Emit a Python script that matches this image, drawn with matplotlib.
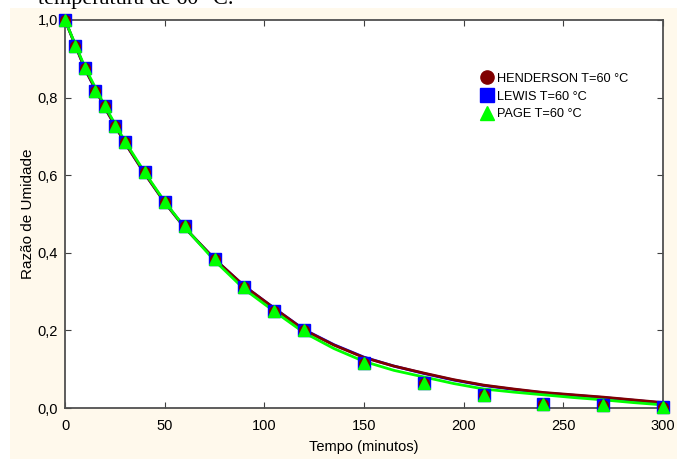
import matplotlib
matplotlib.use("Agg")
import matplotlib.pyplot as plt
from matplotlib.patches import Rectangle
from matplotlib.ticker import FuncFormatter

plt.rcParams['font.family'] = ['Liberation Sans', 'DejaVu Sans']

# pontos experimentais (razao de umidade) - iguais para os tres modelos
tempo_exp = [0, 5, 10, 15, 20, 25, 30, 40, 50, 60, 75, 90, 105, 120,
             150, 180, 210, 240, 270, 300]
ru_exp = [1.0, 0.933, 0.876, 0.817, 0.778, 0.726, 0.685, 0.607, 0.530, 0.470,
          0.385, 0.313, 0.250, 0.200, 0.116, 0.065, 0.034, 0.010, 0.008, 0.003]

# curvas ajustadas
tempo_mod = [0, 10, 20, 30, 40, 50, 60, 75, 90, 105, 120, 135, 150, 165,
             180, 195, 210, 225, 240, 255, 270, 285, 300]
ru_henderson = [1.0, 0.874, 0.774, 0.684, 0.604, 0.530, 0.465, 0.384, 0.314,
                0.257, 0.201, 0.162, 0.130, 0.108, 0.090, 0.073, 0.059, 0.049,
                0.040, 0.034, 0.028, 0.021, 0.014]
ru_lewis = [1.0, 0.874, 0.774, 0.684, 0.604, 0.530, 0.465, 0.384, 0.314,
            0.257, 0.202, 0.163, 0.131, 0.108, 0.089, 0.072, 0.058, 0.048,
            0.039, 0.033, 0.027, 0.020, 0.013]
ru_page = [1.0, 0.878, 0.778, 0.688, 0.607, 0.532, 0.466, 0.380, 0.306,
           0.249, 0.194, 0.153, 0.120, 0.097, 0.080, 0.063, 0.049, 0.041,
           0.034, 0.027, 0.021, 0.014, 0.008]

fig = plt.figure(figsize=(6.77, 4.59), dpi=100)
fig.patch.set_facecolor('white')
fundo = Rectangle((10 / 677, 0), 1, 1 - 8 / 459, transform=fig.transFigure,
                  facecolor='#FFF9EC', edgecolor='none', zorder=-10)
fig.add_artist(fundo)
fig.text(38 / 677, 1 - 4 / 459, 'temperatura de 60 °C.', fontsize=16,
         family=['Liberation Serif', 'DejaVu Serif'], va='baseline', ha='left')

ax = fig.add_axes([65 / 677, 51 / 459, 598 / 677, 388 / 459])
ax.set_zorder(1)
ax.set_facecolor('white')

ax.plot(tempo_mod, ru_lewis, color='#0000FF', lw=2, zorder=2)
ax.plot(tempo_mod, ru_henderson, color='#800000', lw=2, zorder=3)
ax.plot(tempo_mod, ru_page, color='#00FF00', lw=2, zorder=4)

ax.plot(tempo_exp, ru_exp, 's', color='#0000FF', ms=8.5, mec='#0000FF', zorder=5,
        clip_on=False)
ax.plot(tempo_exp, ru_exp, 'o', color='#800000', ms=7, mec='#800000', zorder=5,
        clip_on=False)
ax.plot(tempo_exp, ru_exp, '^', color='#00FF00', ms=8, mec='#00FF00', zorder=6,
        clip_on=False)

# legenda manual (marcadores sobrepostos nos pontos)
h1, = ax.plot([], [], 'o', color='#800000', ms=9.5)
h2, = ax.plot([], [], 's', color='#0000FF', ms=9.5)
h3, = ax.plot([], [], '^', color='#00FF00', ms=9.5)
ax.legend([h1, h2, h3], ['HENDERSON T=60 °C', 'LEWIS T=60 °C', 'PAGE T=60 °C'],
          loc='upper left', bbox_to_anchor=(0.685, 0.88), frameon=False,
          fontsize=9.2, handletextpad=0.25, labelspacing=0.45, borderpad=0,
          handlelength=1.0)

ax.set_xlim(0, 300)
ax.set_ylim(0, 1.0)
ax.set_xticks([0, 50, 100, 150, 200, 250, 300])
ax.set_yticks([0, 0.2, 0.4, 0.6, 0.8, 1.0])
ax.yaxis.set_major_formatter(FuncFormatter(lambda v, p: f'{v:.1f}'.replace('.', ',')))
ax.tick_params(direction='in', top=True, right=True, length=4, labelsize=10.5,
               color='#404040')
ax.tick_params(axis='x', pad=8)
ax.tick_params(axis='y', pad=5)
for s in ax.spines.values():
    s.set_color('#505050')
    s.set_linewidth(1.3)

ax.set_xlabel('Tempo (minutos)', fontsize=10.5, labelpad=5)
ax.set_ylabel('Razão de Umidade', fontsize=11, labelpad=2)

fig.savefig('out.png', dpi=100, facecolor=fig.get_facecolor())
